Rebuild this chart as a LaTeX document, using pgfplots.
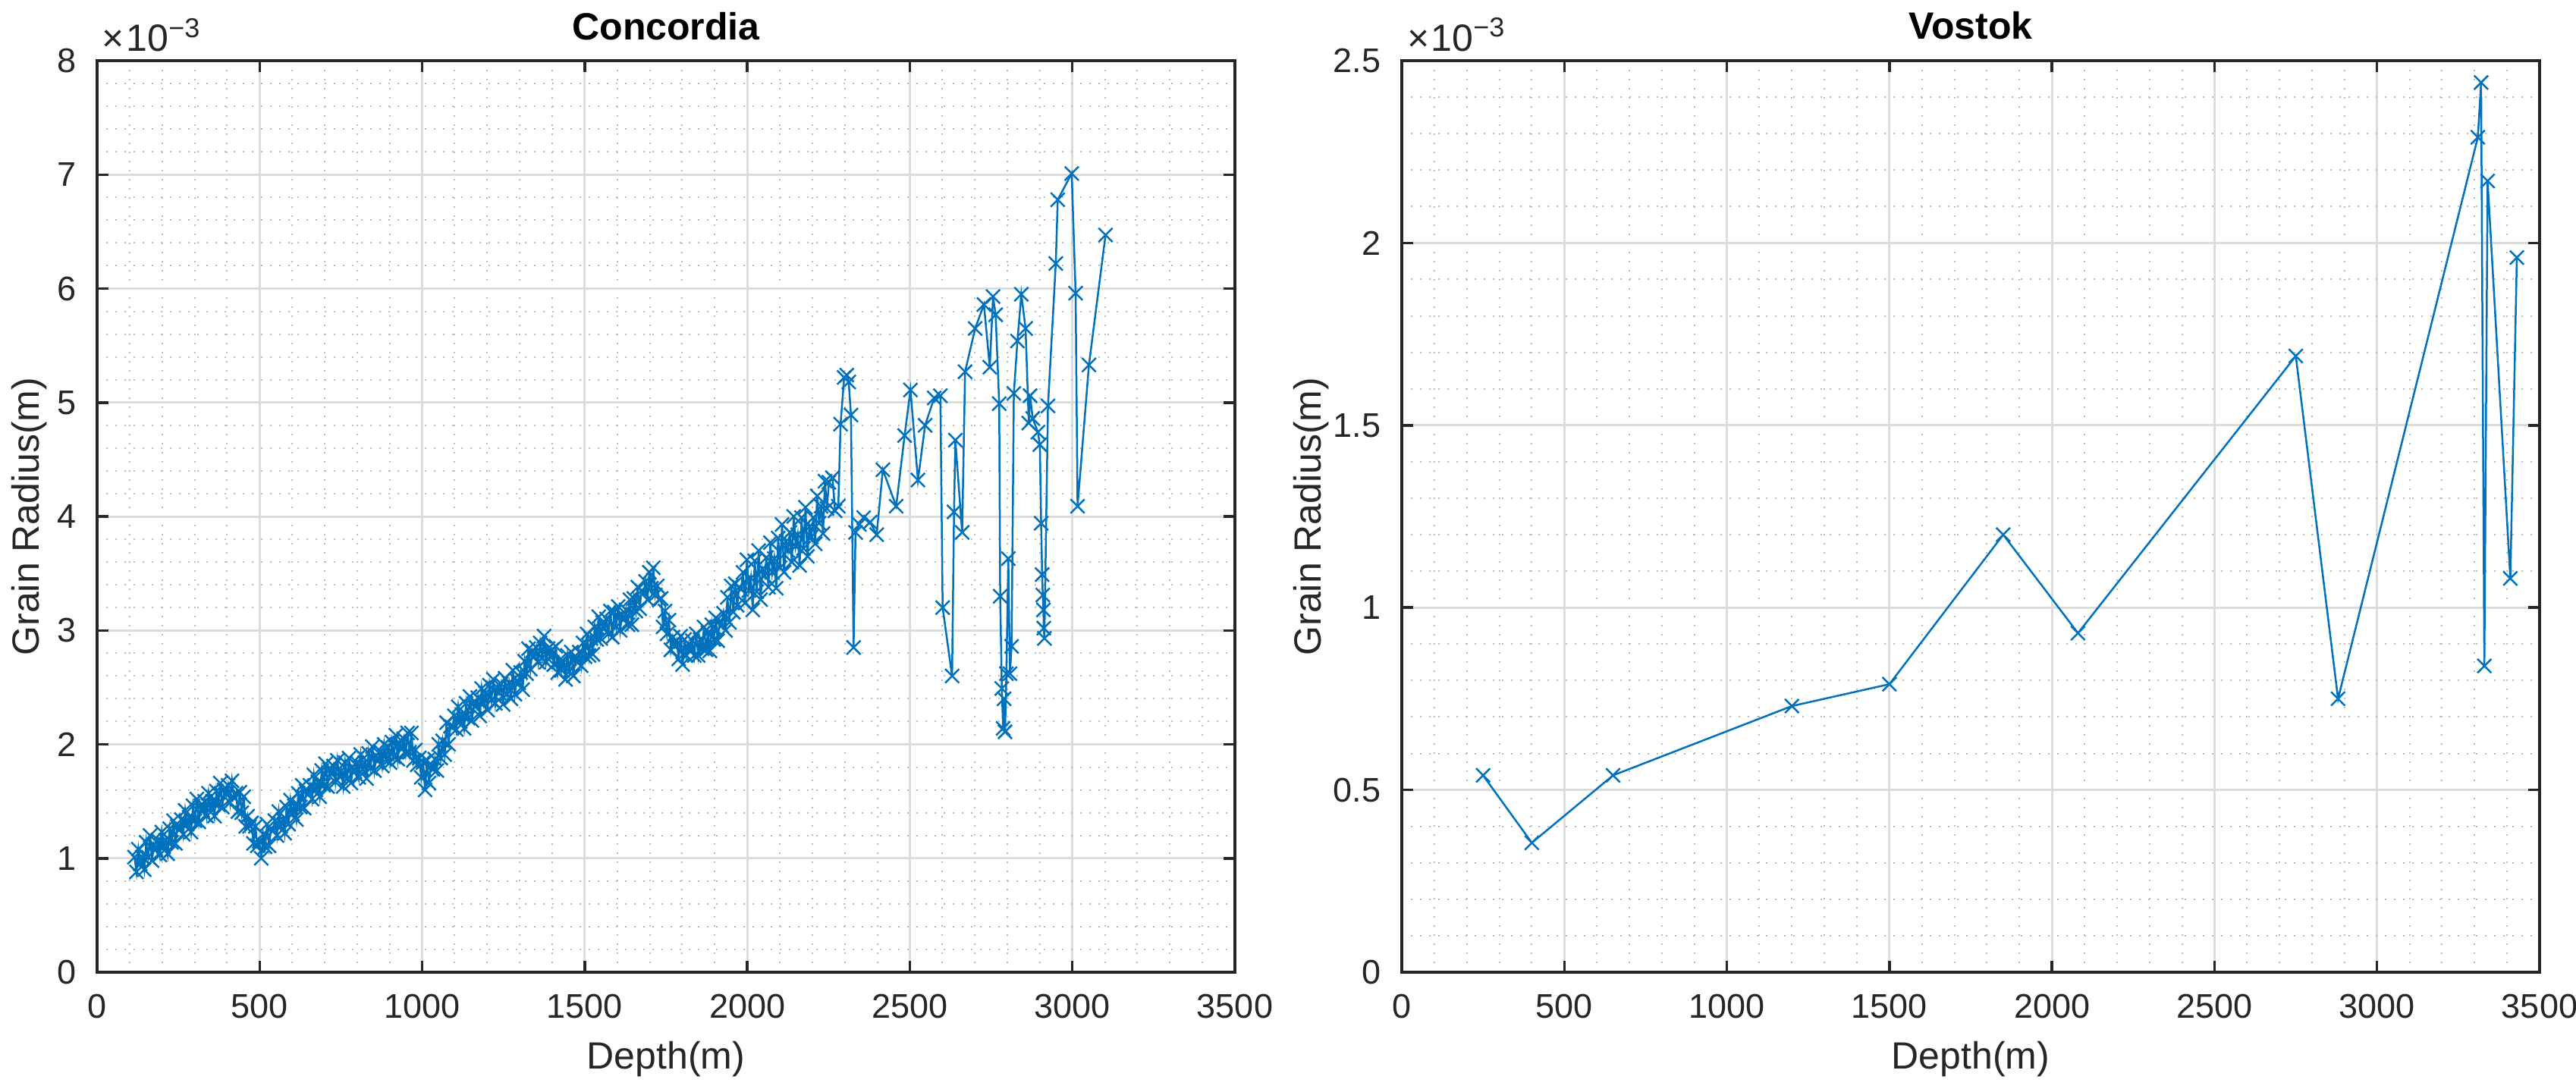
\documentclass[border=0pt]{standalone}
\usepackage{fontspec}
\setmainfont{Liberation Sans}
\usepackage{pgfplots}
\pgfplotsset{compat=1.18}
\definecolor{mblue}{HTML}{0072BD}
\definecolor{axgray}{HTML}{262626}
\definecolor{gridc}{HTML}{DCDCDC}
\definecolor{minorc}{HTML}{BDBDBD}

\pgfplotsset{mstyle/.style={
  scale only axis, width=300pt, height=240.4pt,
  xmin=0, xmax=3500, xtick={0,500,...,3500},
  minor x tick num=4, minor y tick num=4,
  grid=both,
  major grid style={gridc, line width=0.6pt},
  minor grid style={minorc, dotted, line width=0.4pt},
  axis line style={axgray, line width=0.7pt},
  tick style={axgray, line width=0.7pt},
  major tick length=3pt, minor tick length=0pt,
  tick align=inside,
  /pgf/number format/assume math mode=true,
  /pgf/number format/1000 sep={},
  ticklabel style={font=\fontsize{9}{10}\selectfont, text=axgray},
  xticklabel style={yshift=-2.3pt},
  yticklabel style={xshift=-2pt},
  every axis x label/.style={at={([yshift=-23pt]axis description cs:0.5,0)}, anchor=center, font=\fontsize{10}{12}\selectfont, text=axgray},
  every axis title/.style={at={(axis description cs:0.5,1)}, anchor=base, yshift=5.6pt, font=\bfseries\fontsize{10}{12}\selectfont},
  xlabel={Depth(m)},
  mark size=2.6pt,
}}
\newcommand{\expnt}{\fontsize{10}{12}\selectfont ×\kern0.5pt10\raisebox{3.6pt}{\fontsize{7.2}{8}\selectfont −3}}

\begin{document}
\begin{tikzpicture}
\path[use as bounding box] (0,0) rectangle (679.2pt,287pt);

\begin{axis}[mstyle, name=conc, at={(25.6pt,30.6pt)}, anchor=south west,
  ymin=0, ymax=8, ytick={0,1,...,8},
  title={Concordia},
  every axis y label/.style={at={([xshift=-17.8pt]axis description cs:0,0.5)}, anchor=center, rotate=90, font=\fontsize{10}{12}\selectfont, text=axgray},
  ylabel={Grain Radius(m)}]
\addplot[mblue, line width=0.5pt, mark=x, mark options={solid}] coordinates {
(115,1.01) (121,0.88) (127,1.08) (133,0.95) (139,1.01) (145,0.90) (151,1.14) (157,1.01) (163,1.20) (169,0.98)
(175,1.12) (181,1.08) (187,1.16) (193,1.03) (199,1.23) (205,1.10) (211,1.16) (217,1.04) (223,1.26) (229,1.14)
(235,1.33) (241,1.13) (247,1.28) (253,1.25) (259,1.34) (265,1.21) (271,1.42) (277,1.30) (283,1.36) (289,1.23)
(295,1.46) (301,1.33) (307,1.52) (313,1.32) (319,1.46) (325,1.42) (331,1.50) (337,1.37) (343,1.57) (349,1.44)
(355,1.50) (361,1.37) (367,1.59) (373,1.47) (379,1.66) (385,1.45) (391,1.60) (397,1.56) (403,1.64) (409,1.49)
(415,1.68) (421,1.53) (427,1.57) (433,1.41) (439,1.58) (445,1.40) (451,1.54) (457,1.28) (463,1.37) (469,1.28)
(475,1.31) (481,1.13) (487,1.28) (493,1.11) (499,1.15) (505,1.00) (511,1.21) (517,1.10) (523,1.30) (529,1.11)
(535,1.26) (541,1.24) (547,1.33) (553,1.20) (559,1.41) (565,1.28) (571,1.34) (577,1.22) (583,1.45) (589,1.30)
(595,1.51) (601,1.39) (607,1.46) (613,1.34) (619,1.57) (625,1.45) (631,1.64) (637,1.44) (643,1.59) (649,1.56)
(655,1.64) (661,1.52) (667,1.73) (673,1.60) (679,1.67) (685,1.54) (691,1.77) (697,1.64) (703,1.83) (709,1.63)
(715,1.78) (721,1.74) (727,1.81) (733,1.67) (739,1.86) (745,1.72) (751,1.77) (757,1.63) (763,1.84) (769,1.70)
(775,1.88) (781,1.66) (787,1.80) (793,1.76) (799,1.84) (805,1.71) (811,1.91) (817,1.78) (823,1.84) (829,1.70)
(835,1.92) (841,1.79) (847,1.98) (853,1.77) (859,1.90) (865,1.86) (871,1.94) (877,1.81) (883,2.00) (889,1.87)
(895,1.97) (901,1.84) (907,2.02) (913,1.89) (919,2.08) (925,1.87) (931,2.01) (937,1.97) (943,2.05) (949,1.92)
(955,2.10) (961,1.93) (967,2.10) (973,1.86) (979,1.95) (985,1.82) (991,1.88) (997,1.71) (1003,1.84) (1009,1.60)
(1015,1.86) (1021,1.66) (1027,1.81) (1033,1.78) (1039,1.87) (1045,1.77) (1051,2.00) (1057,1.88) (1063,2.03) (1069,1.91)
(1075,2.19) (1081,2.00) (1087,2.16) (1093,2.15) (1099,2.25) (1105,2.13) (1111,2.33) (1117,2.20) (1123,2.26) (1129,2.14)
(1135,2.36) (1141,2.23) (1147,2.42) (1153,2.21) (1159,2.36) (1165,2.33) (1171,2.41) (1177,2.25) (1183,2.49) (1189,2.36)
(1195,2.45) (1201,2.30) (1207,2.52) (1213,2.39) (1219,2.57) (1225,2.36) (1231,2.50) (1237,2.45) (1243,2.53) (1249,2.35)
(1255,2.58) (1261,2.44) (1267,2.54) (1273,2.40) (1279,2.65) (1285,2.44) (1291,2.56) (1297,2.54) (1303,2.63) (1309,2.48)
(1315,2.73) (1321,2.62) (1327,2.84) (1333,2.66) (1339,2.82) (1345,2.77) (1351,2.85) (1357,2.72) (1363,2.89) (1369,2.76)
(1375,2.95) (1381,2.72) (1387,2.84) (1393,2.77) (1399,2.83) (1405,2.70) (1411,2.86) (1417,2.63) (1423,2.74) (1429,2.65)
(1435,2.72) (1441,2.57) (1447,2.78) (1453,2.64) (1459,2.81) (1465,2.60) (1471,2.75) (1477,2.72) (1483,2.81) (1489,2.69)
(1495,2.89) (1501,2.77) (1507,2.97) (1513,2.78) (1519,2.93) (1525,2.79) (1531,3.03) (1537,2.92) (1543,3.12) (1549,2.93)
(1555,3.07) (1561,3.02) (1567,3.10) (1573,2.97) (1579,3.17) (1585,2.94) (1591,3.16) (1597,3.03) (1603,3.21) (1609,3.00)
(1615,3.14) (1621,3.10) (1627,3.18) (1633,3.05) (1639,3.27) (1645,3.05) (1651,3.28) (1657,3.17) (1663,3.38) (1669,3.19)
(1675,3.35) (1681,3.33) (1687,3.43) (1693,3.27) (1699,3.51) (1705,3.37) (1711,3.55) (1717,3.31) (1723,3.39) (1729,3.27)
(1735,3.28) (1741,3.03) (1747,3.17) (1753,2.97) (1759,3.09) (1765,2.83) (1771,2.94) (1777,2.86) (1783,2.91) (1789,2.75)
(1795,2.95) (1801,2.70) (1807,2.92) (1813,2.78) (1819,2.88) (1825,2.83) (1831,2.91) (1837,2.78) (1843,2.97) (1849,2.78)
(1855,2.92) (1861,2.84) (1867,3.03) (1873,2.83) (1879,2.98) (1885,2.82) (1891,3.05) (1897,2.92) (1903,3.11) (1909,2.91)
(1915,3.08) (1921,3.04) (1927,3.15) (1933,3.00) (1939,3.29) (1945,3.07) (1951,3.39) (1957,3.16) (1963,3.41) (1969,3.22)
(1975,3.38) (1981,3.36) (1987,3.51) (1993,3.24) (1999,3.62) (2005,3.35) (2011,3.46) (2017,3.18) (2023,3.61) (2029,3.34)
(2035,3.70) (2041,3.27) (2047,3.54) (2053,3.48) (2059,3.64) (2065,3.38) (2071,3.77) (2077,3.51) (2083,3.63) (2089,3.37)
(2095,3.81) (2101,3.55) (2107,3.93) (2113,3.51) (2119,3.78) (2125,3.70) (2131,3.86) (2137,3.60) (2143,4.00) (2149,3.74)
(2155,3.84) (2161,3.57) (2167,3.99) (2173,3.72) (2179,4.08) (2185,3.65) (2191,3.91) (2197,3.82) (2203,3.99) (2209,3.76)
(2215,4.18) (2221,3.94) (2227,4.09) (2233,3.85) (2239,4.31) (2245,4.07) (2251,4.30)
(2262,4.34) (2270,4.05) (2280,4.09) (2287,4.81) (2298,5.22) (2306,5.24) (2312,5.18) (2319,4.89) (2327,2.85) (2333,3.86)
(2345,3.93) (2358,3.99) (2378,3.95) (2398,3.84) (2417,4.41) (2458,4.09) (2484,4.71) (2502,5.11) (2525,4.32) (2547,4.80)
(2575,5.04) (2594,5.06) (2601,3.20) (2630,2.60) (2636,4.04) (2640,4.67) (2661,3.86) (2670,5.27) (2701,5.65) (2728,5.86)
(2746,5.31) (2756,5.93) (2764,5.77) (2775,4.99) (2778,3.30) (2783,2.49) (2787,2.14) (2790,2.40) (2793,2.11) (2797,2.62)
(2803,3.63) (2808,2.62) (2813,2.86) (2820,5.08) (2831,5.54) (2843,5.95) (2856,5.65) (2866,4.82) (2870,5.06) (2878,4.86)
(2894,4.74) (2900,4.63) (2904,3.94) (2907,3.49) (2909,3.31) (2911,3.18) (2912,3.02) (2914,2.93) (2925,4.97) (2949,6.22)
(2955,6.78) (2998,7.01) (3010,5.96) (3016,4.09) (3051,5.33) (3102,6.47)
};
\end{axis}
\node[anchor=base west, inner sep=0pt, text=axgray] at ([xshift=1.2pt,yshift=2.6pt]conc.north west) {\expnt};

\begin{axis}[mstyle, name=vost, at={(369.6pt,30.6pt)}, anchor=south west,
  ymin=0, ymax=2.5, ytick={0,0.5,1,1.5,2,2.5},
  title={Vostok},
  every axis y label/.style={at={([xshift=-23.8pt]axis description cs:0,0.5)}, anchor=center, rotate=90, font=\fontsize{10}{12}\selectfont, text=axgray},
  ylabel={Grain Radius(m)}]
\addplot[mblue, line width=0.5pt, mark=x, mark options={solid}] coordinates {
(250,0.54) (400,0.355) (650,0.54) (1200,0.73) (1500,0.79) (1850,1.20) (2080,0.93) (2750,1.69)
(2880,0.75) (3310,2.29) (3320,2.44) (3330,0.84) (3340,2.17) (3410,1.08) (3430,1.96)
};
\end{axis}
\node[anchor=base west, inner sep=0pt, text=axgray] at ([xshift=1.2pt,yshift=2.6pt]vost.north west) {\expnt};
\end{tikzpicture}
\end{document}
